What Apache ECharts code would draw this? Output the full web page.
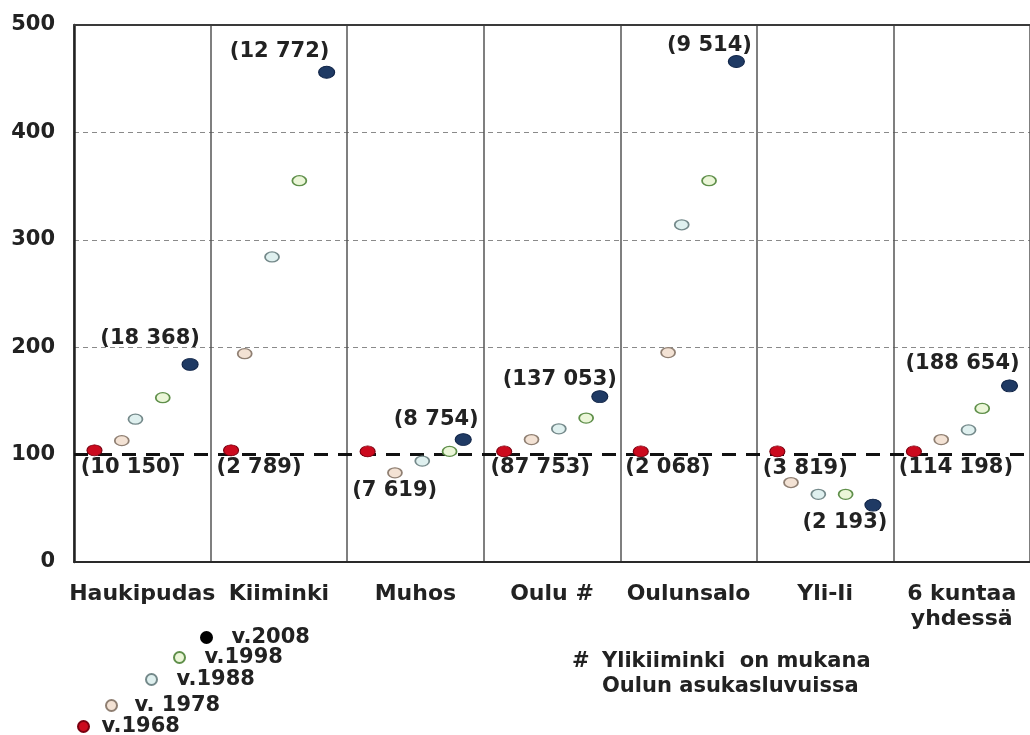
<!DOCTYPE html>
<html>
<head>
<meta charset="utf-8">
<script src="https://cdn.jsdelivr.net/npm/echarts@6/dist/echarts.min.js"></script>
<style>
html,body{margin:0;padding:0;background:#fff;}
#chart{width:1030px;height:735px;}
</style>
</head>
<body>
<div id="chart"></div>
<script>
// ---- data ----
const categories = ['Haukipudas', 'Kiiminki', 'Muhos', 'Oulu #', 'Oulunsalo', 'Yli-Ii', '6 kuntaa\nyhdessä'];
const years = ['v.1968', 'v. 1978', 'v.1988', 'v.1998', 'v.2008'];
const baseline = 100;
const yTicks = [0, 100, 200, 300, 400, 500];

// index values (1968 = 100)
const idx1968 = [104, 104, 103, 103, 103, 103, 103];
const idx1978 = [113, 194, 83, 114, 195, 74, 114];
const idx1988 = [133, 284, 94, 124, 314, 63, 123];
const idx1998 = [153, 355, 103, 134, 355, 63, 143];
const idx2008 = [184, 456, 114, 154, 466, 53, 164];

// x value of each point inside its municipality band (0..1)
const xIn1968 = [0.15, 0.15, 0.15, 0.15, 0.15, 0.15, 0.15];
const xIn1978 = [0.35, 0.25, 0.35, 0.35, 0.35, 0.25, 0.35];
const xIn1988 = [0.45, 0.45, 0.55, 0.55, 0.45, 0.45, 0.55];
const xIn1998 = [0.65, 0.65, 0.75, 0.75, 0.65, 0.65, 0.65];
const xIn2008 = [0.85, 0.85, 0.85, 0.85, 0.85, 0.85, 0.85];

// population labels
const pop1968 = ['(10 150)', '(2 789)', '(7 619)', '(87 753)', '(2 068)', '(3 819)', '(114 198)'];
const pop2008 = ['(18 368)', '(12 772)', '(8 754)', '(137 053)', '(9 514)', '(2 193)', '(188 654)'];

const footHash = '#';
const footText = 'Ylikiiminki  on mukana\nOulun asukasluvuissa';

// ---- styles ----
const FONT = 'DejaVu Sans';
const labelOff1968 = [[36, 17], [28, 17], [27, 39], [36, 16], [27, 16], [28, 17], [42, 16]];
const labelOff2008 = [[-40, -26], [-47, -21], [-27, -20], [-40, -17], [-27, -16], [-28, 17], [-47, -22]];

const yearStyles = [
  {color: '#cc0a1e', borderColor: '#7a0010', borderWidth: 1, size: [15, 11]},
  {color: '#f3e2d4', borderColor: '#8f7f72', borderWidth: 1.5, size: [14, 10]},
  {color: '#dff0ef', borderColor: '#74898a', borderWidth: 1.5, size: [14, 10]},
  {color: '#ebf6d8', borderColor: '#5f8f4a', borderWidth: 1.5, size: [14, 10]},
  {color: '#1f3a64', borderColor: '#102447', borderWidth: 1, size: [16, 12]}
];
const idxAll = [idx1968, idx1978, idx1988, idx1998, idx2008];
const xInAll = [xIn1968, xIn1978, xIn1988, xIn1998, xIn2008];

const textBase = {fontFamily: FONT, fontWeight: 'bold', fontSize: 21, color: '#222'};

function buildData(k) {
  return categories.map((c, i) => {
    const item = {value: [i + xInAll[k][i], idxAll[k][i]]};
    if (k === 0 || k === 4) {
      const txt = k === 0 ? pop1968[i] : pop2008[i];
      const off = k === 0 ? labelOff1968[i] : labelOff2008[i];
      item.label = Object.assign({show: true, position: 'inside', offset: off, formatter: txt}, textBase);
    }
    return item;
  });
}

const series = years.map((y, k) => {
  const s = {
    name: y,
    type: 'scatter',
    xAxisIndex: 0,
    yAxisIndex: 0,
    symbol: 'circle',
    symbolSize: yearStyles[k].size,
    itemStyle: {color: yearStyles[k].color, borderColor: yearStyles[k].borderColor, borderWidth: yearStyles[k].borderWidth, opacity: 1},
    emphasis: {disabled: true},
    data: buildData(k),
    z: 3
  };
  if (k === 0) {
    s.markLine = {
      silent: true,
      symbol: ['none', 'none'],
      label: {show: false},
      lineStyle: {color: '#111', width: 3, type: [14, 10]},
      data: [{yAxis: baseline}],
      z: 2
    };
  }
  return s;
});

const legendPos = [
  {left: 77, top: 716, pad: 6},
  {left: 105, top: 695, pad: 11},
  {left: 145, top: 669, pad: 13},
  {left: 173, top: 647, pad: 13},
  {left: 200, top: 627, pad: 13}
];
const legends = years.map((y, k) => ({
  left: legendPos[k].left,
  top: legendPos[k].top,
  orient: 'vertical',
  padding: 0,
  itemWidth: 14,
  itemHeight: 11,
  icon: 'circle',
  selectedMode: false,
  data: [k === 4 ? {name: y, itemStyle: {color: '#000', borderColor: '#000'}} : {name: y}],
  textStyle: Object.assign({padding: [0, 0, 0, legendPos[k].pad], lineHeight: 21}, textBase)
}));

const option = {
  animation: false,
  backgroundColor: '#fff',
  grid: {left: 74, top: 25, width: 959, height: 537, show: false},
  xAxis: [
    {
      type: 'value', min: 0, max: categories.length, interval: 1, position: 'top',
      axisLabel: {show: false}, axisTick: {show: false},
      axisLine: {show: true, onZero: false, lineStyle: {color: '#3a3a3a', width: 2}},
      splitLine: {show: true, lineStyle: {color: '#555', width: 1.5}}
    },
    {
      type: 'category', data: categories, position: 'bottom',
      axisLine: {show: true, onZero: false, lineStyle: {color: '#2a2a2a', width: 2}},
      axisTick: {show: false}, splitLine: {show: false},
      axisLabel: Object.assign({interval: 0, margin: 20, lineHeight: 25, fontSize: 22}, {fontFamily: FONT, fontWeight: 'bold', color: '#222'})
    }
  ],
  yAxis: {
    type: 'value', min: yTicks[0], max: yTicks[yTicks.length - 1], interval: 100,
    axisLine: {show: true, onZero: false, lineStyle: {color: '#222', width: 2.5}},
    axisTick: {show: false},
    axisLabel: Object.assign({margin: 19}, textBase),
    splitLine: {show: true, lineStyle: {type: [5, 4], width: 1.2, color: ['transparent', 'transparent', '#8a8a8a', '#8a8a8a', '#8a8a8a', 'transparent']}}
  },
  legend: legends,
  graphic: [
    {type: 'text', left: 572, top: 649, style: {text: footHash, lineHeight: 25, fill: '#222', font: 'bold 21px "DejaVu Sans"'}},
    {type: 'text', left: 602, top: 649, style: {text: footText, lineHeight: 25, fill: '#222', font: 'bold 21px "DejaVu Sans"'}}
  ],
  series: series
};

const chart = echarts.init(document.getElementById('chart'), null, {renderer: 'canvas'});
chart.setOption(option);
</script>
</body>
</html>
